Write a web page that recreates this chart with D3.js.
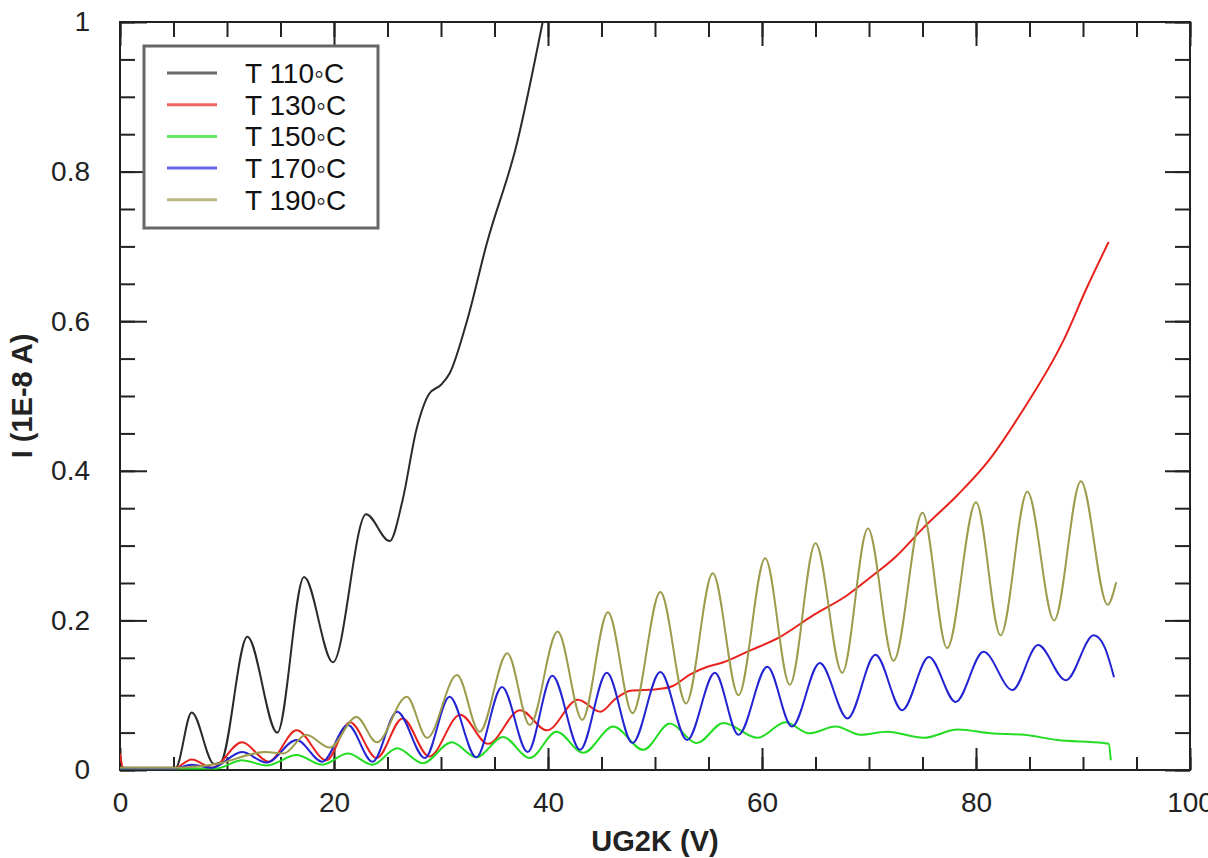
<!DOCTYPE html>
<html>
<head>
<meta charset="utf-8">
<script src="https://cdn.jsdelivr.net/npm/d3@7"></script>
<style>
  body { margin: 0; background: #fff; }
  svg { display: block; font-family: "Liberation Sans", Arial, Helvetica, sans-serif; }
</style>
</head>
<body>
<div id="chart"></div>
<script>
// I-U curves, [UG2K (V), I (1E-8 A)]
var t110 = [[0,0.003],[5.2,0.003],[6.7,0.077],[8.8,0.008],[9.4,0.01],[11.9,0.178],
  [14.7,0.05],[17.2,0.258],[19.9,0.144],[23.0,0.342],
  [25.2,0.306],[26.4,0.36],[27.7,0.455],[28.9,0.503],[30.0,0.515],[30.8,0.53],[32.4,0.599],[34.3,0.705],[37.1,0.838],[39.5,1.0]];

var t130 = [[0,0.022],[0.3,0.003],[2,0.002],[5,0.002],[6.7,0.014],[8.6,0.003],
  [11.4,0.037],[13.9,0.011],[16.5,0.053],[19.3,0.013],[21.5,0.064],
  [24.0,0.016],[26.4,0.069],[28.9,0.018],[31.8,0.074],
  [34.4,0.035],[37.4,0.08],[39.9,0.053],[42.8,0.094],[44.9,0.078],[46.3,0.095],
  [47.7,0.106],[50.2,0.108],[51.6,0.112],[53.3,0.128],[54.9,0.138],[56.4,0.144],[58.6,0.158],[61.7,0.178],[64.8,0.207],
  [68.0,0.234],[70.0,0.256],[72.5,0.285],[75.1,0.324],[78.3,0.368],[81.2,0.414],[84.2,0.477],[88.2,0.575],[90.4,0.646],[92.4,0.706]];

var t150 = [[0,0.002],[9,0.002],[11.4,0.013],[13.7,0.006],[16.5,0.02],[18.9,0.007],[21.3,0.022],[23.6,0.007],
  [25.9,0.029],[28.3,0.009],[31.0,0.037],[33.3,0.017],[35.8,0.044],[38.3,0.016],[40.8,0.051],[43.3,0.023],[46.1,0.058],
  [48.9,0.027],[51.4,0.062],[53.9,0.036],[56.4,0.063],[59.6,0.043],[62.2,0.064],[64.4,0.049],[66.9,0.058],[69.2,0.047],
  [71.7,0.051],[75.1,0.043],[78.3,0.054],[81.4,0.049],[84.5,0.047],[87.6,0.040],[91.9,0.036],[92.4,0.035],[92.6,0.013]];

var t170 = [[0,0.002],[5,0.002],[6.7,0.007],[8.6,0.003],[11.4,0.024],[13.7,0.01],[16.5,0.04],[18.9,0.011],
  [21.3,0.06],[23.6,0.011],[25.9,0.078],[28.5,0.016],[30.8,0.098],[33.3,0.017],[35.7,0.111],[38.1,0.024],[40.4,0.126],
  [43.0,0.027],[45.5,0.130],[47.9,0.036],[50.5,0.131],[53.0,0.040],[55.6,0.130],[57.8,0.047],[60.5,0.138],[62.8,0.058],
  [65.4,0.143],[68.0,0.069],[70.6,0.154],[73.1,0.080],[75.6,0.151],[78.1,0.091],[80.7,0.158],[83.4,0.107],[85.8,0.167],
  [88.4,0.120],[91.0,0.180],[92.0,0.165],[92.9,0.124]];

var t190 = [[0,0.003],[5,0.003],[9,0.008],[13.6,0.024],[15.3,0.022],[17.4,0.047],[19.6,0.03],
  [22.1,0.071],[24.0,0.037],[26.8,0.098],[28.7,0.043],[31.5,0.127],[33.6,0.051],[36.2,0.156],[38.3,0.060],[40.9,0.185],
  [43.2,0.067],[45.6,0.211],[47.9,0.076],[50.5,0.238],[52.9,0.089],[55.4,0.263],[57.8,0.100],[60.3,0.283],[62.6,0.114],
  [65.0,0.303],[67.5,0.130],[69.9,0.323],[72.3,0.146],[75.0,0.344],[77.3,0.163],[80.0,0.358],[82.3,0.180],[84.8,0.372],
  [87.3,0.200],[89.8,0.386],[92.3,0.221],[93.1,0.251]];

var seriesNames = ["T 110\u25E6C", "T 130\u25E6C", "T 150\u25E6C", "T 170\u25E6C", "T 190\u25E6C"];
var xMajorTicks = [0, 20, 40, 60, 80, 100];
var yMajorTicks = [0, 0.2, 0.4, 0.6, 0.8, 1];

var series = [t110, t130, t150, t170, t190];
var colors = ["#2a2a2a", "#e8231d", "#23dc23", "#2323d2", "#9d9b4c"];

var width = 1208,
    height = 858;
// note: "top" is taken by window.top, so plain names with a prefix
var plotLeft = 120, plotRight = 1190, plotTop = 22, plotBottom = 770;

var svg = d3.select("#chart")
  .append("svg")
    .attr("width", width)
    .attr("height", height);

var x = d3.scaleLinear().domain([0, 100]).range([plotLeft, plotRight]);
var y = d3.scaleLinear().domain([0, 1]).range([plotBottom, plotTop]);

svg.append("clipPath")
    .attr("id", "clip")
  .append("rect")
    .attr("x", plotLeft).attr("y", plotTop)
    .attr("width", plotRight - plotLeft).attr("height", plotBottom - plotTop);

// axes: minor ticks first, then major ticks with labels
var minorX = d3.range(0, 101, 5),
    minorY = d3.range(0, 1.001, 0.05);

function styleAxis(g) {
  g.select(".domain").remove();
  g.attr("font-family", null).attr("font-size", null);
  g.selectAll("line").attr("stroke", "#222").attr("stroke-width", 2);
  g.selectAll("text").attr("fill", "#222").style("font-size", "28px");
}

svg.append("g").attr("transform", "translate(0," + plotBottom + ")")
  .call(d3.axisBottom(x).tickValues(minorX).tickSize(-13).tickSizeOuter(0).tickFormat(""))
  .call(styleAxis);
svg.append("g").attr("transform", "translate(0," + plotBottom + ")")
  .call(d3.axisBottom(x).tickValues(xMajorTicks).tickSize(-22).tickSizeOuter(0).tickPadding(22).tickFormat(d3.format("d")))
  .call(styleAxis);

svg.append("g").attr("transform", "translate(0," + plotTop + ")")
  .call(d3.axisTop(x).tickValues(minorX).tickSize(-15).tickSizeOuter(0).tickFormat(""))
  .call(styleAxis);
svg.append("g").attr("transform", "translate(0," + plotTop + ")")
  .call(d3.axisTop(x).tickValues(xMajorTicks).tickSize(-24).tickSizeOuter(0).tickFormat(""))
  .call(styleAxis);

svg.append("g").attr("transform", "translate(" + plotLeft + ",0)")
  .call(d3.axisLeft(y).tickValues(minorY).tickSize(-15).tickSizeOuter(0).tickFormat(""))
  .call(styleAxis);
svg.append("g").attr("transform", "translate(" + plotLeft + ",0)")
  .call(d3.axisLeft(y).tickValues(yMajorTicks).tickSize(-27).tickSizeOuter(0).tickPadding(30).tickFormat(function(d){ return String(+d.toFixed(1)); }))
  .call(styleAxis);

svg.append("g").attr("transform", "translate(" + plotRight + ",0)")
  .call(d3.axisRight(y).tickValues(minorY).tickSize(-15).tickSizeOuter(0).tickFormat(""))
  .call(styleAxis);
svg.append("g").attr("transform", "translate(" + plotRight + ",0)")
  .call(d3.axisRight(y).tickValues(yMajorTicks).tickSize(-25).tickSizeOuter(0).tickFormat(""))
  .call(styleAxis);

// frame
svg.append("rect")
    .attr("x", plotLeft).attr("y", plotTop)
    .attr("width", plotRight - plotLeft).attr("height", plotBottom - plotTop)
    .attr("fill", "none")
    .attr("stroke", "#222")
    .attr("stroke-width", 2);

// curves
var line = d3.line()
    .x(function(d){ return x(d[0]); })
    .y(function(d){ return y(d[1]); })
    .curve(d3.curveMonotoneX);

svg.append("g")
    .attr("clip-path", "url(#clip)")
  .selectAll("path")
  .data(series)
  .enter()
  .append("path")
    .attr("d", line)
    .attr("fill", "none")
    .attr("stroke", function(d, i){ return colors[i]; })
    .attr("stroke-width", 2)
    .attr("stroke-linejoin", "round");

// axis titles
svg.append("text")
    .attr("x", (plotLeft + plotRight) / 2)
    .attr("y", 851)
    .attr("text-anchor", "middle")
    .style("font-size", "29px")
    .style("font-weight", "bold")
    .attr("fill", "#222")
    .text("UG2K (V)");

svg.append("text")
    .attr("transform", "translate(32," + (plotTop + plotBottom) / 2 + ") rotate(-90)")
    .attr("text-anchor", "middle")
    .style("font-size", "29px")
    .style("font-weight", "bold")
    .attr("fill", "#222")
    .text("I (1E-8 A)");

// legend
var legend = svg.append("g");
legend.append("rect")
    .attr("x", 144).attr("y", 46)
    .attr("width", 234).attr("height", 182)
    .attr("fill", "#fff")
    .attr("stroke", "#666")
    .attr("stroke-width", 3);

var rows = legend.selectAll("g.row")
  .data(seriesNames)
  .enter()
  .append("g")
    .attr("class", "row")
    .attr("transform", function(d, i){ return "translate(0," + (73 + i * 31.7) + ")"; });

rows.append("line")
    .attr("x1", 167).attr("x2", 217)
    .attr("stroke", function(d, i){ return colors[i]; })
    .attr("stroke-opacity", 0.7)
    .attr("stroke-width", 3);

rows.append("text")
    .attr("x", 245)
    .attr("dy", "0.36em")
    .style("font-size", "28px")
    .attr("fill", "#111")
    .text(function(d){ return d; });
</script>
</body>
</html>
